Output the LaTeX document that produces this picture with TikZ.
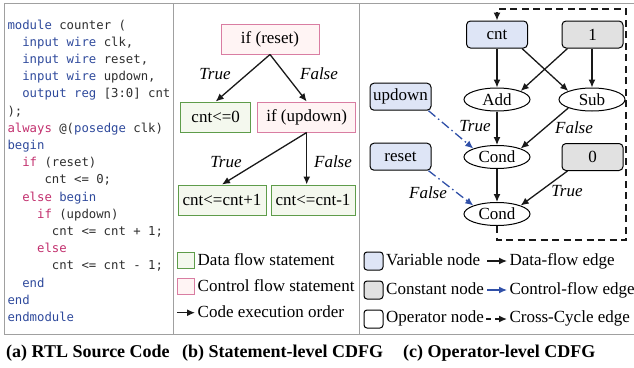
\documentclass[tikz,border=0pt]{standalone}
\usepackage{fontspec}
\setmainfont{Liberation Serif}
\newfontfamily\codefont{DejaVu Sans Mono}
\usetikzlibrary{arrows.meta,shapes.geometric,calc}

\definecolor{kwblue}{HTML}{2F4A9C}
\definecolor{kwpink}{HTML}{C2306E}
\definecolor{codegray}{HTML}{2E2E2E}
\definecolor{framegray}{HTML}{A0A0A0}
\definecolor{dgreen}{HTML}{5E9C4A}
\definecolor{dgreenfill}{HTML}{F4F8EE}
\definecolor{cpink}{HTML}{D97DA2}
\definecolor{cpinkfill}{HTML}{FFF4F4}
\definecolor{varfill}{HTML}{DEE5F6}
\definecolor{constfill}{HTML}{E1E1E1}
\definecolor{cfblue}{HTML}{3050A8}

\newcommand\kb[1]{\textcolor{kwblue}{#1}}
\newcommand\kp[1]{\textcolor{kwpink}{#1}}

\tikzset{
  code/.style={anchor=base west, inner sep=0pt, font=\codefont\fontsize{12.3}{14}\selectfont, text=codegray},
  txt/.style={font=\fontsize{17}{20}\selectfont},
  datastmt/.style={txt, draw=dgreen, fill=dgreenfill, line width=1pt, minimum height=30pt, inner sep=0pt},
  ctrlstmt/.style={txt, draw=cpink, fill=cpinkfill, line width=1pt, minimum height=30pt, inner sep=0pt},
  varnode/.style={txt, draw, line width=1pt, rounded corners=4pt, fill=varfill, minimum width=61pt, minimum height=27pt, inner sep=0pt},
  constnode/.style={varnode, fill=constfill},
  opnode/.style={txt, draw, line width=1pt, ellipse, minimum width=66pt, minimum height=23pt, inner sep=0pt},
  dflow/.style={-{Latex[length=8pt,width=7pt]}, line width=1.3pt, black!90},
  cflow/.style={-{Latex[length=8pt,width=7pt]}, line width=1.3pt, cfblue, dash pattern=on 9pt off 3.5pt on 1.5pt off 3.5pt},
  xflow/.style={-{Latex[length=8pt,width=7pt]}, line width=1.4pt, black!90, dash pattern=on 7pt off 4.5pt},
  lbl/.style={font=\itshape\fontsize{17}{20}\selectfont, inner sep=0pt},
  legtxt/.style={txt, anchor=base west, inner sep=0pt},
  capt/.style={font=\bfseries\fontsize{18}{21}\selectfont, anchor=base west, inner sep=0pt},
}

\begin{document}
\begin{tikzpicture}[x=1pt,y=-1pt]
\useasboundingbox (0,0) rectangle (634,367);

% frames
\draw[framegray, line width=0.9pt] (4,3.5) -- (634,3.5);
\draw[framegray, line width=0.9pt] (4,334) -- (634,334);
\draw[framegray, line width=0.9pt] (4,3.5) -- (4,334);
\draw[framegray, line width=0.9pt] (173,3.5) -- (173,334);
\draw[framegray, line width=0.9pt] (359,3.5) -- (359,334);

% code panel
\node[code] (c1) at (7.3,29) {\kb{module} counter (};
\node[code] (c2) at (22.1,46.2) {\kb{input wire} clk,};
\node[code] (c3) at (22.1,63.4) {\kb{input wire} reset,};
\node[code] (c4) at (22.1,80.6) {\kb{input wire} updown,};
\node[code] (c5) at (22.1,97.8) {\kb{output reg} [3:0] cnt};
\node[code] (c6) at (7.3,115) {);};
\node[code] (c7) at (7.3,132.2) {\kp{always} @(\kb{posedge} clk)};
\node[code] (c8) at (7.3,149.4) {\kb{begin}};
\node[code] (c9) at (22.1,166.6) {\kp{if} (reset)};
\node[code] (c10) at (44.3,183.8) {cnt <= 0;};
\node[code] (c11) at (22.1,201) {\kp{else} \kb{begin}};
\node[code] (c12) at (36.9,218.2) {\kp{if} (updown)};
\node[code] (c13) at (51.7,235.4) {cnt <= cnt + 1;};
\node[code] (c14) at (36.9,252.6) {\kp{else}};
\node[code] (c15) at (51.7,269.8) {cnt <= cnt - 1;};
\node[code] (c16) at (22.1,287) {\kb{end}};
\node[code] (c17) at (7.3,304.2) {\kb{end}};
\node[code] (c18) at (7.3,321.4) {\kb{endmodule}};

% statement-level CDFG
\node[ctrlstmt, minimum width=98pt] (ifreset) at (270,39) {if (reset)};
\node[datastmt, minimum width=70pt] (cnt0) at (215.7,117) {cnt<=0};
\node[ctrlstmt, minimum width=98pt] (ifupdown) at (306.7,117) {if (updown)};
\node[datastmt, minimum width=88pt] (cntp) at (222,200) {cnt<=cnt+1};
\node[datastmt, minimum width=84pt] (cntm) at (313,200) {cnt<=cnt-1};

\draw[dflow] (ifreset.south) -- (cnt0.north);
\draw[dflow] (ifreset.south) -- (ifupdown.north);
\draw[dflow] (ifupdown.south) -- (cntp.north);
\draw[dflow] (ifupdown.south) -- (ifupdown.south |- cntm.north);
\node[lbl] (t1) at (215,74) {True};
\node[lbl] (f1) at (319,74) {False};
\node[lbl] (t2) at (226,162) {True};
\node[lbl] (f2) at (333,162) {False};

% legend (b)
\node[draw=dgreen, fill=dgreenfill, line width=1pt, minimum width=17pt, minimum height=16pt, inner sep=0pt] (lg1) at (185.5,260) {};
\node[draw=cpink, fill=cpinkfill, line width=1pt, minimum width=17pt, minimum height=16pt, inner sep=0pt] (lg2) at (185.5,286) {};
\coordinate (la1) at (177,312.7);
\coordinate (la2) at (195,312.7);
\draw[dflow] (la1) -- (la2);
\node[legtxt] (lt1) at (197.5,265) {Data flow statement};
\node[legtxt] (lt2) at (197.5,291.7) {Control flow statement};
\node[legtxt] (lt3) at (197.5,317.7) {Code execution order};

% operator-level CDFG
\node[varnode] (cnt) at (497,34.5) {cnt};
\node[constnode] (one) at (592.5,34.5) {1};
\node[opnode] (add) at (497,99.5) {Add};
\node[opnode] (sub) at (592,99.5) {Sub};
\node[varnode] (updown) at (400.5,96.7) {updown};
\node[varnode] (reset) at (400.5,156.7) {reset};
\node[opnode] (cond1) at (497,157) {Cond};
\node[constnode] (zero) at (592.5,157) {0};
\node[opnode] (cond2) at (497,214) {Cond};

\draw[dflow] (cnt.south) -- (add.north);
\draw[dflow] ([xshift=-6pt]cnt.south east) -- (sub.north west);
\draw[dflow] ([xshift=6pt]one.south west) -- (add.north east);
\draw[dflow] (one.south -| sub.north) -- (sub.north);
\draw[dflow] (add.south) -- (cond1.north);
\draw[dflow] (sub.south west) -- (cond1.north east);
\draw[cflow] ([xshift=-3pt]updown.south east) -- (cond1.north west);
\draw[cflow] ([xshift=-3pt]reset.south east) -- (cond2.north west);
\draw[dflow] (cond1.south) -- (cond2.north);
\draw[dflow] ([xshift=6pt]zero.south west) -- (cond2.north east);

\coordinate (x1) at (497,240);
\coordinate (x2) at (626,240);
\coordinate (x3) at (626,9);
\coordinate (x4) at (497,9);
\draw[xflow] (cond2.south) -- (x1) -- (x2) -- (x3) -- (x4) -- (cnt.north);

\node[lbl] (lt) at (475,126.5) {True};
\node[lbl] (lf) at (574,127.5) {False};
\node[lbl] (lf2) at (428,192.5) {False};
\node[lbl] (lt2r) at (567,191.5) {True};

% legend (c)
\node[draw, line width=1pt, rounded corners=3pt, fill=varfill, minimum width=19pt, minimum height=18pt, inner sep=0pt] (r1) at (373.5,261) {};
\node[draw, line width=1pt, rounded corners=3pt, fill=constfill, minimum width=19pt, minimum height=18pt, inner sep=0pt] (r2) at (373.5,290) {};
\node[draw, line width=1pt, rounded corners=3pt, fill=white, minimum width=19pt, minimum height=18pt, inner sep=0pt] (r3) at (373.5,319) {};
\node[legtxt] (rt1) at (386,265) {Variable node};
\node[legtxt] (rt2) at (386,294.3) {Constant node};
\node[legtxt] (rt3) at (386,322.7) {Operator node};
\coordinate (ea1) at (487,261);
\coordinate (ea2) at (507,261);
\coordinate (eb1) at (487,290);
\coordinate (eb2) at (507,290);
\coordinate (ec1) at (486,319);
\coordinate (ec2) at (507,319);
\draw[dflow] (ea1) -- (ea2);
\draw[-{Latex[length=8pt,width=7pt]}, line width=1.3pt, cfblue] (eb1) -- (eb2);
\draw[xflow, dash pattern=on 5pt off 4pt] (ec1) -- (ec2);
\node[legtxt] (et1) at (509.3,265) {Data-flow edge};
\node[legtxt] (et2) at (509.3,294.3) {Control-flow edge};
\node[legtxt] (et3) at (509.3,322.7) {Cross-Cycle edge};

% captions
\node[capt] (ca) at (6,357) {(a) RTL Source Code};
\node[capt] (cb) at (182,357) {(b) Statement-level CDFG};
\node[capt] (cc) at (403,357) {(c) Operator-level CDFG};
\end{tikzpicture}
\end{document}
